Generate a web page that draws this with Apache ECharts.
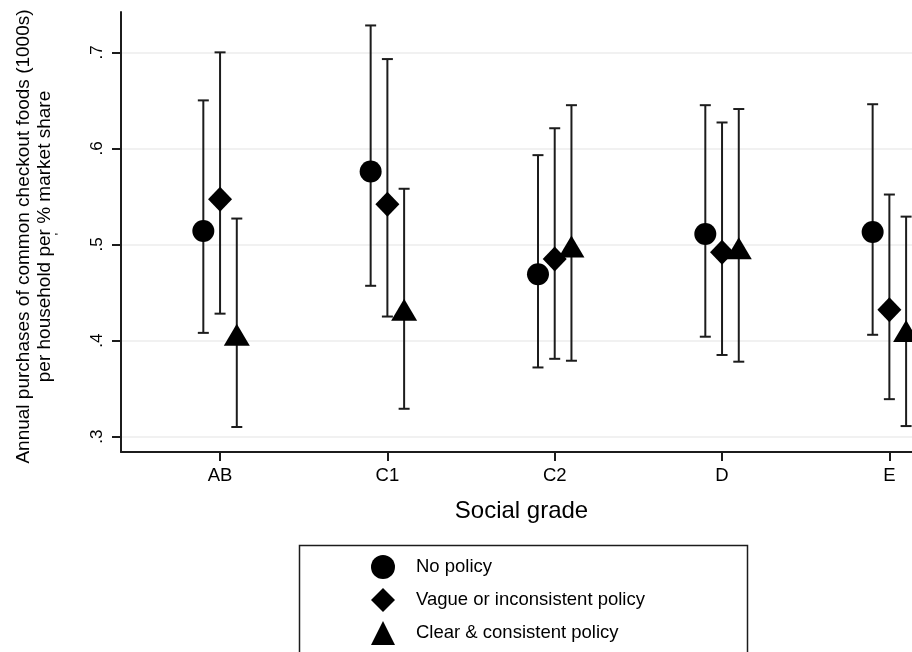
<!DOCTYPE html>
<html>
<head>
<meta charset="utf-8">
<script src="https://cdn.jsdelivr.net/npm/echarts@6/dist/echarts.min.js"></script>
<style>
html,body{margin:0;padding:0;background:#fff;}
#chart{width:912px;height:652px;}
</style>
</head>
<body>
<div id="chart"></div>
<script>
var categories = ['AB', 'C1', 'C2', 'D', 'E'];
var seriesNames = ['No policy', 'Vague or inconsistent policy', 'Clear & consistent policy'];
var yTicks = [0.3, 0.4, 0.5, 0.6, 0.7];

var noPolicy     = [0.514, 0.576, 0.469, 0.511, 0.513];
var noPolicyLow  = [0.408, 0.457, 0.372, 0.404, 0.406];
var noPolicyHigh = [0.650, 0.728, 0.593, 0.645, 0.646];

var vague     = [0.547, 0.542, 0.485, 0.492, 0.432];
var vagueLow  = [0.428, 0.425, 0.381, 0.385, 0.339];
var vagueHigh = [0.700, 0.693, 0.621, 0.627, 0.552];

var clear     = [0.406, 0.432, 0.498, 0.496, 0.410];
var clearLow  = [0.310, 0.329, 0.379, 0.378, 0.311];
var clearHigh = [0.527, 0.558, 0.645, 0.641, 0.529];

var groups = [
  {name: seriesNames[0], mean: noPolicy, low: noPolicyLow, high: noPolicyHigh, symbol: 'circle', size: 22, offset: -0.1},
  {name: seriesNames[1], mean: vague, low: vagueLow, high: vagueHigh, symbol: 'diamond', size: [24, 25], offset: 0},
  {name: seriesNames[2], mean: clear, low: clearLow, high: clearHigh, symbol: 'triangle', size: [26, 22], offset: 0.1}
];

var FONT = "'Liberation Sans', Arial, sans-serif";
var INK = '#1c1c1c';
var chart = echarts.init(document.getElementById('chart'), null, {renderer: 'canvas'});

var series = [];
groups.forEach(function (g) {
  series.push({
    type: 'custom',
    name: g.name + ' CI',
    silent: true,
    z: 1,
    encode: {x: 0, y: [1, 2]},
    data: categories.map(function (c, i) { return [i + 1 + g.offset, g.low[i], g.high[i]]; }),
    renderItem: function (params, api) {
      var x = api.value(0);
      var lo = api.coord([x, api.value(1)]);
      var hi = api.coord([x, api.value(2)]);
      var hw = 5.5;
      var st = {stroke: INK, lineWidth: 2};
      return {
        type: 'group',
        children: [
          {type: 'line', shape: {x1: lo[0], y1: lo[1], x2: hi[0], y2: hi[1]}, style: st},
          {type: 'line', shape: {x1: lo[0] - hw, y1: lo[1], x2: lo[0] + hw, y2: lo[1]}, style: st},
          {type: 'line', shape: {x1: hi[0] - hw, y1: hi[1], x2: hi[0] + hw, y2: hi[1]}, style: st}
        ]
      };
    }
  });
  series.push({
    type: 'scatter',
    name: g.name,
    symbol: g.symbol,
    symbolSize: g.size,
    z: 3,
    clip: false,
    itemStyle: {color: '#000', opacity: 1},
    emphasis: {disabled: true},
    data: categories.map(function (c, i) { return [i + 1 + g.offset, g.mean[i]]; })
  });
});

var option = {
  backgroundColor: '#fff',
  animation: false,
  grid: {left: 121, right: -10, top: 12, bottom: 200, containLabel: false, outerBoundsMode: 'none'},
  xAxis: {
    type: 'value',
    min: 0.408,
    max: 5.195,
    name: 'Social grade',
    nameLocation: 'middle',
    nameGap: 47,
    nameTextStyle: {fontFamily: FONT, fontSize: 24, color: '#000'},
    axisLine: {show: true, onZero: false, lineStyle: {color: INK, width: 2}},
    axisTick: {show: true, length: 9, lineStyle: {color: INK, width: 2}, customValues: [1, 2, 3, 4, 5]},
    axisLabel: {
      show: true, margin: 14, fontFamily: FONT, fontSize: 18.5, color: '#000',
      customValues: [1, 2, 3, 4, 5],
      formatter: function (v) { return categories[Math.round(v) - 1]; }
    },
    splitLine: {show: false}
  },
  yAxis: {
    type: 'value',
    min: 0.284,
    max: 0.742,
    name: 'Annual purchases of common checkout foods (1000s)\nper household per % market share',
    nameLocation: 'middle',
    nameRotate: 90,
    nameGap: 66,
    nameTextStyle: {fontFamily: FONT, fontSize: 19, lineHeight: 21, color: '#000', padding: [0, 9, 0, 0]},
    axisLine: {show: true, onZero: false, lineStyle: {color: INK, width: 2}},
    axisTick: {show: true, length: 9, lineStyle: {color: INK, width: 2}, customValues: yTicks},
    axisLabel: {
      show: true, rotate: 90, margin: 15, fontFamily: FONT, fontSize: 17, color: '#000',
      customValues: yTicks,
      formatter: function (v) { return v.toFixed(1).replace(/^0/, ''); }
    },
    splitLine: {show: true, lineStyle: {color: '#ececec', width: 1.5}}
  },
  legend: {
    orient: 'vertical',
    left: 371,
    top: 555,
    height: 140,
    itemWidth: 24,
    itemHeight: 24,
    itemGap: 9,
    padding: 0,
    selectedMode: false,
    data: seriesNames.map(function (n) { return {name: n, itemStyle: {color: '#000'}}; }),
    textStyle: {fontFamily: FONT, fontSize: 18.5, color: '#000', padding: [0, 0, 0, 16]}
  },
  graphic: [
    {type: 'rect', left: 297, top: 543, shape: {width: 448, height: 130}, style: {fill: 'none', stroke: INK, lineWidth: 1.5}, z: 0},
    {type: 'text', x: 61, y: 234, rotation: Math.PI / 2, style: {text: "'", font: '12px ' + FONT, fill: '#000', align: 'center', verticalAlign: 'middle'}}
  ],
  series: series
};
chart.setOption(option);
</script>
</body>
</html>
